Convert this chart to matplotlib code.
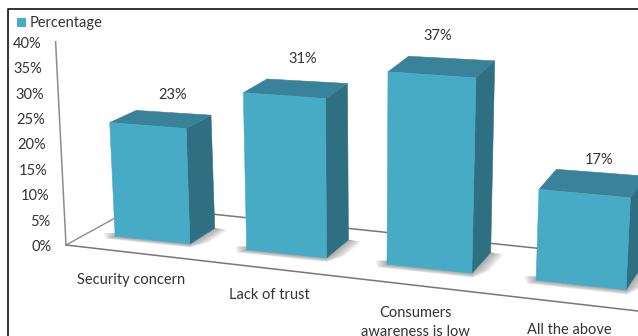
#!/usr/bin/env python3
"""Barriers to adoption drawn as a 3-D style column chart on a plain 2-D canvas."""
import numpy as np
import matplotlib
matplotlib.use('Agg')
import matplotlib.pyplot as plt
from matplotlib.patches import Polygon, Rectangle

categories = ['Security concern', 'Lack of trust', 'Consumers\nawareness is low', 'All the above']
values = [23, 31, 37, 17]
y_ticks = [0, 5, 10, 15, 20, 25, 30, 35, 40]
series_name = 'Percentage'

FRONT, TOP, SIDE = '#48abc6', '#3a8299', '#2f6f82'
TEXT = '#333333'
LINE = '#8c8c8c'
D_FRONT, D_DEPTH = 0.82, 1.0    # where the columns sit on the floor


def project(u, d, v):
    """(along floor 0-1, depth, percent) -> canvas pixels."""
    x = 66 + 572 * u + d * (27 - 12 * u) + v * (-0.26 + 0.54 * u)
    y = 245 + 66 * u - d * (14 + 10 * u) + 4 * max(0, u - 0.6) * min(d, 1)
    return x, y - v * (5.08 + 0.53 * u - 0.1 * d - 0.08 * min(d / D_FRONT, 1))


def poly(ax, pts, color, z=3, **kw):
    ax.add_patch(Polygon([project(*p) for p in pts], closed=True, fc=color, ec=color,
                         lw=0.4, zorder=z, **kw))


plt.rcParams['font.family'] = ['Lato', 'DejaVu Sans']
fig = plt.figure(figsize=(6.38, 3.36), dpi=100)
ax = fig.add_axes([0, 0, 1, 1])
ax.set_xlim(0, 638); ax.set_ylim(336, 0); ax.axis('off')

# outer frame, cut by the right and bottom edges
ax.plot([7.5, 7.5, 640], [340, 9, 9], color='#111111', lw=1.2, zorder=1)

# walls and floor
ax.plot(*zip(project(0, 0, 40), project(0, 0, 0)), color=LINE, lw=1.1, zorder=1)
ax.plot(*zip(project(0, 0, 0), project(1, 0, 0)), color='#777777', lw=1.1, zorder=1)
ax.plot(*zip(project(0, 0, 0), (135, 207)), color=LINE, lw=1.0, zorder=1)
ax.plot([135, 640], [206, 259], color='#777777', lw=1.1, zorder=1)

for v in y_ticks:
    x, y = project(0, 0, v)
    ax.text(x - 14.5, y + 2, f'{v}%', ha='right', va='center', fontsize=10.5, color=TEXT)

label_xy = [(173, 95), (303, 59), (438, 36), (599, 160)]
cat_xy = [(131, 280), (269, 295), (415, 322.5), (569, 330)]
for i, (val, name) in enumerate(zip(values, categories)):
    c = 0.1145 + 0.2385 * i + 0.0078 * i * (i - 1)
    hw = 0.0665 + 0.0045 * i
    l, r = c - hw, c + hw
    d0, d1 = D_FRONT, D_FRONT + D_DEPTH

    # soft contact shadow under the column
    for k in np.linspace(1, 0, 10):
        g = 0.002 + 0.022 * k
        gd = 0.02 + 0.16 * k
        poly(ax, [(l - g, d0 + 0.1, 0), (l - g * 0.4, d0 - gd, 0), (r + g * 0.3, d0 - gd, 0),
                  (r + g, d0 + 0.2, 0), (r + g, d1 - 0.05, 0), (r, d1, 0)],
             '#5a5a5a', z=2, alpha=0.06)

    poly(ax, [(r, d0, 0), (r, d1, 0), (r, d1, val), (r, d0, val)], SIDE)
    poly(ax, [(l, d0, val), (r, d0, val), (r, d1, val), (l, d1, val)], TOP)
    poly(ax, [(l, d0, 0), (r, d0, 0), (r, d0, val), (l, d0, val)], FRONT, z=4)

    ax.text(*label_xy[i], f'{val}%', ha='center', va='center', fontsize=10.5, color=TEXT)
    ax.text(*cat_xy[i], name, ha='center', va='center', fontsize=10.5, color=TEXT,
            linespacing=1.5)

# legend
ax.add_patch(Rectangle((17, 18), 9, 9, fc=FRONT, ec='none', zorder=5))
ax.text(30, 23, series_name, ha='left', va='center', fontsize=10.5, color=TEXT)

fig.savefig('out.png', dpi=100)
